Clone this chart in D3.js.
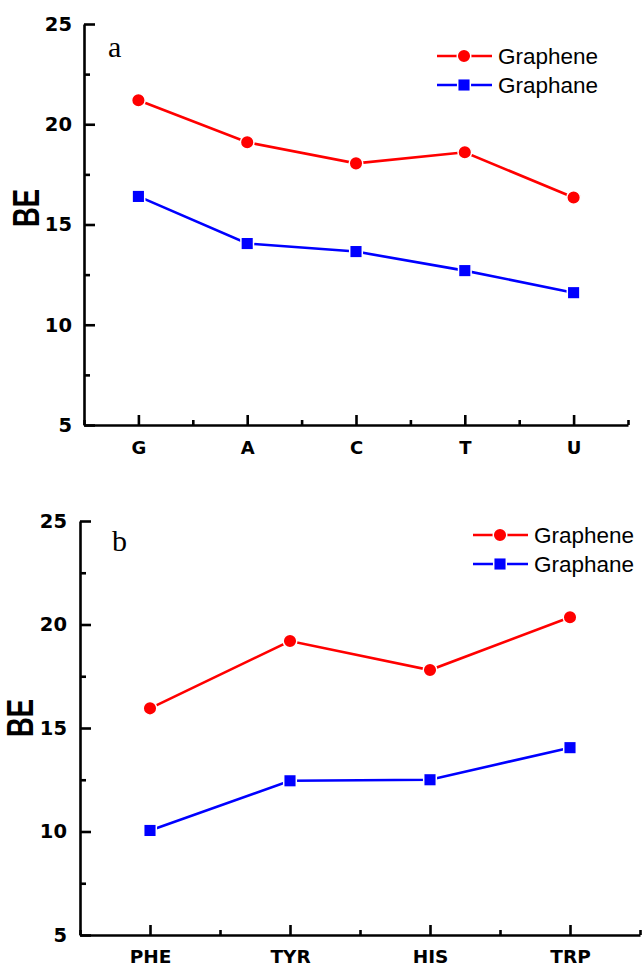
<!DOCTYPE html>
<html lang="en">
	<head>
		<meta charset="utf-8">
		<title>BE graphene / graphane</title>
		<script type="text/javascript" src="https://cdn.jsdelivr.net/npm/d3@7/dist/d3.min.js"></script>
		<style type="text/css">
			body { margin: 0; background: #fff; }
			svg { display: block; }
		</style>
	</head>
	<body>
		<script type="text/javascript">
			//Data
			var basesA = ["G", "A", "C", "T", "U"];
			var grapheneA = [21.2, 19.1, 18.05, 18.6, 16.35];
			var graphaneA = [16.4, 14.05, 13.65, 12.7, 11.6];

			var aminoB = ["PHE", "TYR", "HIS", "TRP"];
			var grapheneB = [15.95, 19.2, 17.8, 20.35];
			var graphaneB = [10.05, 12.45, 12.5, 14.05];

			var yTicks = [5, 10, 15, 20, 25];
			var seriesNames = ["Graphene", "Graphane"];

			//Width and height
			var w = 644;
			var h = 967;

			var svg = d3.select("body")
						.append("svg")
						.attr("width", w)
						.attr("height", h);

			var panels = [
				{
					tag: "a", cats: basesA, red: grapheneA, blue: graphaneA,
					left: 84, right: 628, top: 24, bottom: 425,
					tagX: 108, tagY: 57, tagSize: 30,
					beX: 39, beY: 208,
					legX: 437, legY: 56, legFont: 22.5,
					xSize: 18, ySize: 19.5, xPad: 16, yPad: 12
				},
				{
					tag: "b", cats: aminoB, red: grapheneB, blue: graphaneB,
					left: 80, right: 640, top: 521, bottom: 935,
					tagX: 112, tagY: 551, tagSize: 30,
					beX: 33, beY: 718,
					legX: 473, legY: 535, legFont: 22.5,
					xSize: 18.5, ySize: 19.5, xPad: 15, yPad: 13
				}
			];

			panels.forEach(function(p) {
				var n = p.cats.length;

				var xScale = d3.scaleLinear()
					.domain([0.5, n + 0.5])
					.range([p.left, p.right]);

				var yScale = d3.scaleLinear()
					.domain([5, 25])
					.range([p.bottom, p.top]);

				var g = svg.append("g");

				//minor ticks
				var xMinor = d3.range(0, n + 1).map(function(i) { return i + 0.5; });
				var yMinor = [7.5, 12.5, 17.5, 22.5];

				g.append("g")
					.attr("transform", "translate(0," + p.bottom + ")")
					.call(d3.axisBottom(xScale).tickValues(xMinor).tickSize(-5).tickFormat(""))
					.call(function(s) { s.select(".domain").remove(); });

				g.append("g")
					.attr("transform", "translate(" + p.left + ",0)")
					.call(d3.axisLeft(yScale).tickValues(yMinor).tickSize(-6).tickFormat(""))
					.call(function(s) { s.select(".domain").remove(); });

				//X axis
				var gx = g.append("g")
					.attr("class", "axis")
					.attr("transform", "translate(0," + p.bottom + ")")
					.call(d3.axisBottom(xScale)
						.tickValues(d3.range(1, n + 1))
						.tickSizeInner(-10)
						.tickSizeOuter(0)
						.tickPadding(p.xPad)
						.tickFormat(function(d) { return p.cats[d - 1]; }));

				//Y axis
				var gy = g.append("g")
					.attr("class", "axis")
					.attr("transform", "translate(" + p.left + ",0)")
					.call(d3.axisLeft(yScale)
						.tickValues(yTicks)
						.tickSizeInner(-11)
						.tickSizeOuter(0)
						.tickPadding(p.yPad));

				g.selectAll(".tick line, .domain")
					.attr("stroke", "#000")
					.attr("stroke-width", 2.6);

				g.selectAll(".axis text")
					.attr("fill", "#000")
					.style("font-family", "'DejaVu Sans', sans-serif")
					.style("font-weight", "bold");
				gx.selectAll("text").style("font-size", p.xSize + "px");
				gy.selectAll("text").style("font-size", p.ySize + "px");

				//BE label
				g.append("text")
					.attr("transform", "translate(" + p.beX + "," + p.beY + ") rotate(-90)")
					.attr("text-anchor", "middle")
					.attr("textLength", 38)
					.attr("lengthAdjust", "spacingAndGlyphs")
					.style("font-family", "'Liberation Sans', Arial, sans-serif")
					.style("font-weight", "bold")
					.style("font-size", "36px")
					.text("BE");

				//panel tag
				g.append("text")
					.attr("x", p.tagX)
					.attr("y", p.tagY)
					.style("font-family", "'Liberation Serif', 'Times New Roman', serif")
					.style("font-size", p.tagSize + "px")
					.text(p.tag);

				var line = d3.line()
					.x(function(d, i) { return xScale(i + 1); })
					.y(function(d) { return yScale(d); });

				//lines
				[[p.red, "#ff0000"], [p.blue, "#0000ff"]].forEach(function(s) {
					g.append("path")
						.datum(s[0])
						.attr("d", line)
						.attr("fill", "none")
						.attr("stroke", s[1])
						.attr("stroke-width", 2.6);
				});

				//markers
				g.selectAll("circle.pt")
					.data(p.red)
					.enter()
					.append("circle")
					.attr("class", "pt")
					.attr("cx", function(d, i) { return xScale(i + 1); })
					.attr("cy", function(d) { return yScale(d); })
					.attr("r", 6.8)
					.attr("fill", "#ff0000")
					.attr("stroke", "#fff")
					.attr("stroke-width", 1.5);

				g.selectAll("rect.pt")
					.data(p.blue)
					.enter()
					.append("rect")
					.attr("class", "pt")
					.attr("x", function(d, i) { return xScale(i + 1) - 6.3; })
					.attr("y", function(d) { return yScale(d) - 6.3; })
					.attr("width", 12.6)
					.attr("height", 12.6)
					.attr("fill", "#0000ff")
					.attr("stroke", "#fff")
					.attr("stroke-width", 1.5);

				//legend
				var leg = g.append("g").attr("transform", "translate(" + p.legX + "," + p.legY + ")");
				seriesNames.forEach(function(name, i) {
					var col = i === 0 ? "#ff0000" : "#0000ff";
					var row = leg.append("g").attr("transform", "translate(0," + (i * 29) + ")");
					row.append("line")
						.attr("x1", 0).attr("x2", 55)
						.attr("stroke", col)
						.attr("stroke-width", 2.6);
					if (i === 0) {
						row.append("circle")
							.attr("cx", 27).attr("r", 6.8)
							.attr("fill", col).attr("stroke", "#fff").attr("stroke-width", 1.5);
					} else {
						row.append("rect")
							.attr("x", 27 - 6.3).attr("y", -6.3)
							.attr("width", 12.6).attr("height", 12.6)
							.attr("fill", col).attr("stroke", "#fff").attr("stroke-width", 1.5);
					}
					row.append("text")
						.attr("x", 61)
						.attr("y", 8)
						.style("font-family", "'Liberation Sans', Arial, sans-serif")
						.style("font-size", p.legFont + "px")
						.text(name);
				});
			});
		</script>
	</body>
</html>
